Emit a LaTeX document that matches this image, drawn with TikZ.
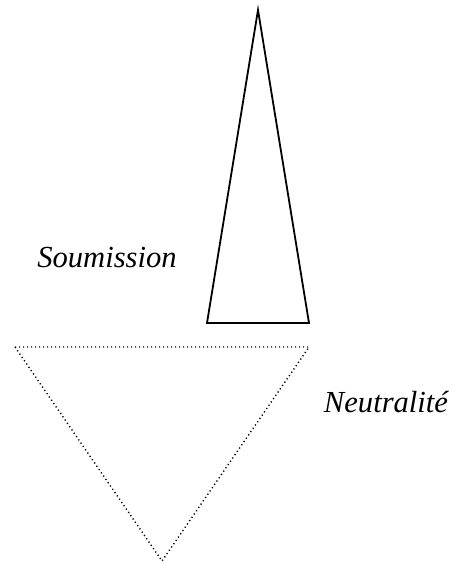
\documentclass[tikz,border=0pt]{standalone}
\usepackage{fontspec}
\setmainfont{Liberation Serif}[ItalicFont=Liberation Serif Italic]
\usepackage{tikz}
\usetikzlibrary{positioning}

\begin{document}
\begin{tikzpicture}[
    x=0.5pt, y=-0.5pt,
    label/.style={anchor=base, inner sep=0pt, font=\fontsize{15.3}{18}\selectfont\itshape},
    solidtri/.style={draw, line width=0.9pt, line join=miter},
    dottedtri/.style={draw, line width=0.7pt, dash pattern=on 0.6pt off 1.4pt},
]
\useasboundingbox (0,0) rectangle (465,563);
\draw[solidtri] (258,10) -- (309,323) -- (207,323) -- cycle;
\draw[dottedtri] (15,347) -- (309,347) -- (162,561) -- cycle;

\node[label] (soumission) at (107,267) {Soumission};
\node[label] (neutralite) at (386,412) {Neutralité};
\end{tikzpicture}
\end{document}
